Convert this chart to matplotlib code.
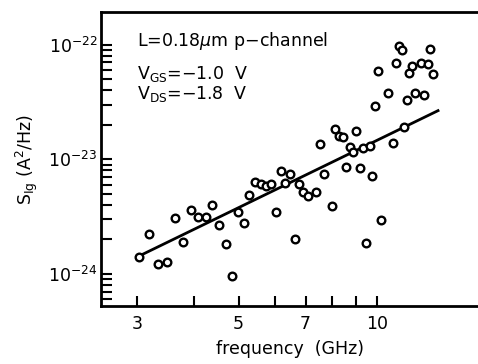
import matplotlib
matplotlib.use('Agg')
import matplotlib.pyplot as plt
import numpy as np

# measured gate noise, S_Ig in units of 1e-24 A^2/Hz
freq = [3.03, 3.19, 3.33, 3.49, 3.64, 3.78, 3.93, 4.08, 4.24, 4.38,
        4.53, 4.69, 4.84, 4.99, 5.14, 5.28, 5.43, 5.59, 5.73, 5.88,
        6.03, 6.18, 6.32, 6.48, 6.64, 6.77, 6.92, 7.08, 7.38, 7.52,
        7.69, 7.98, 8.13, 8.28, 8.45, 8.57, 8.73, 8.89, 9.03, 9.18,
        9.33, 9.48, 9.65, 9.77, 9.93, 10.08, 10.22, 10.58, 10.87, 11.03,
        11.18, 11.33, 11.47, 11.62, 11.78, 11.94, 12.10, 12.51, 12.70, 12.94,
        13.07, 13.27]
s_ig = [1.40, 2.23, 1.21, 1.26, 3.10, 1.91, 3.59, 3.14, 3.16, 4.00,
        2.68, 1.83, 0.96, 3.47, 2.77, 4.86, 6.34, 6.10, 5.89, 6.06,
        3.47, 7.96, 6.18, 7.45, 2.01, 6.06, 5.19, 4.82, 5.16, 13.7,
        7.45, 3.94, 18.4, 16.1, 15.6, 8.54, 12.8, 11.5, 17.8, 8.45,
        12.6, 1.88, 13.1, 7.20, 29.0, 59.3, 2.98, 37.7, 14.0, 68.8,
        96.8, 89.9, 19.2, 32.7, 56.3, 65.2, 37.7, 69.7, 36.4, 68.3,
        91.7, 55.8]

# fitted line end points
fit_freq = [3.0, 13.6]
fit_s = [1.40, 26.6]

xticks = [3, 4, 5, 6, 7, 8, 9, 10]
xticklabels = ['3', '', '5', '', '7', '', '', '10']
yticks = [1e-24, 1e-23, 1e-22]

plt.rcParams['font.family'] = ['DejaVu Sans']
plt.rcParams['mathtext.fontset'] = 'dejavusans'

fig = plt.figure(figsize=(4.78, 3.64), dpi=100)
ax = fig.add_axes([0.2123, 0.158, 0.7877, 0.809])

scale = 1e-24
ax.plot(np.array(fit_freq), np.array(fit_s) * scale, color='black', lw=2.0)
ax.plot(np.array(freq), np.array(s_ig) * scale, 'o', mfc='white', mec='black',
        ms=5.5, mew=1.7, linestyle='none')

ax.set_xscale('log')
ax.set_yscale('log')
ax.set_xlim(2.514, 16.62)
ax.set_ylim(5.2e-25, 1.93e-22)

ax.set_xticks(xticks)
ax.set_xticklabels(xticklabels)
ax.xaxis.set_minor_locator(matplotlib.ticker.NullLocator())
ax.set_yticks(yticks)
ax.yaxis.set_minor_formatter(matplotlib.ticker.NullFormatter())

for s in ['left', 'bottom', 'top']:
    ax.spines[s].set_linewidth(2.0)
ax.spines['right'].set_visible(False)

ax.tick_params(axis='x', which='both', direction='in', length=7.5, width=1.5,
               labelsize=12.5, pad=6, top=False)
ax.tick_params(axis='y', which='both', direction='in', length=8, width=1.5,
               labelsize=12.5, pad=3, right=False)

ax.set_xlabel('frequency  (GHz)', fontsize=12.5, labelpad=5)
ax.set_ylabel(r'S$_{\mathrm{Ig}}$ (A$^2$/Hz)', fontsize=12.5, labelpad=6)

ax.text(0.0943, 0.883, r'L=0.18$\mu$m p−channel', transform=ax.transAxes,
        fontsize=12.5, va='baseline')
ax.text(0.0943, 0.772, r'V$_{\mathrm{GS}}$=−1.0  V', transform=ax.transAxes,
        fontsize=12.5, va='baseline')
ax.text(0.0943, 0.706, r'V$_{\mathrm{DS}}$=−1.8  V', transform=ax.transAxes,
        fontsize=12.5, va='baseline')

fig.savefig('out.png', dpi=100)
